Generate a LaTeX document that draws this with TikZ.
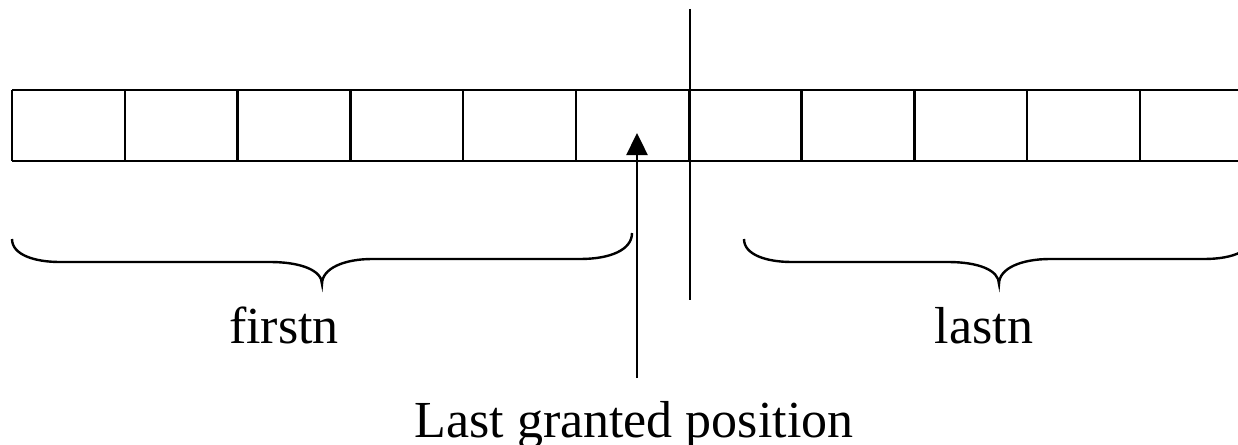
\documentclass[tikz,border=0pt]{standalone}
\usepackage{fontspec}
\setmainfont{Liberation Serif}
\usetikzlibrary{arrows.meta}
\begin{document}
\begin{tikzpicture}[x=1pt,y=-1pt,
  ln/.style={line width=2.4pt},
  lbl/.style={anchor=base,inner sep=0pt,font=\fontsize{52}{60}\selectfont},
  brace/.style={line width=2.4pt}]
\useasboundingbox (0,0) rectangle (1238,444);
\clip (0,0) rectangle (1238,444);
% array of cells
\draw[ln] (12,90) -- (1238,90);
\draw[ln] (12,161) -- (1238,161);
\foreach \k in {0,...,10} {
  \draw[ln] ({12+\k*112.8},90) -- ({12+\k*112.8},161);
}
% separator line
\coordinate (septop) at (690,9);
\coordinate (sepbot) at (690,300);
\draw[ln] (septop) -- (sepbot);
% braces
\draw[brace] (12,239) .. controls (12,255) and (35,262) .. (60,262) -- (270,262)
  .. controls (300,262) and (322,270) .. (322,284)
  .. controls (322,268) and (345,259) .. (372,259) -- (580,259)
  .. controls (610,259) and (632,250) .. (632,233);
\draw[brace] (744,239) .. controls (744,255) and (767,262) .. (792,262) -- (948,262)
  .. controls (978,262) and (999,270) .. (999,284)
  .. controls (999,268) and (1022,259) .. (1050,259) -- (1204,259)
  .. controls (1234,259) and (1254,250) .. (1254,233);
% labels
\node[lbl] (first) at (284,343) {firstn};
\node[lbl] (last) at (984,343) {lastn};
\node[lbl] (lgp) at (634,437) {Last granted position};
% arrow
\coordinate (atail) at (637,378);
\coordinate (ahead) at (637,133);
\draw[ln,-{Triangle[length=22pt,width=21pt]}] (atail) -- (ahead);
\end{tikzpicture}
\end{document}
